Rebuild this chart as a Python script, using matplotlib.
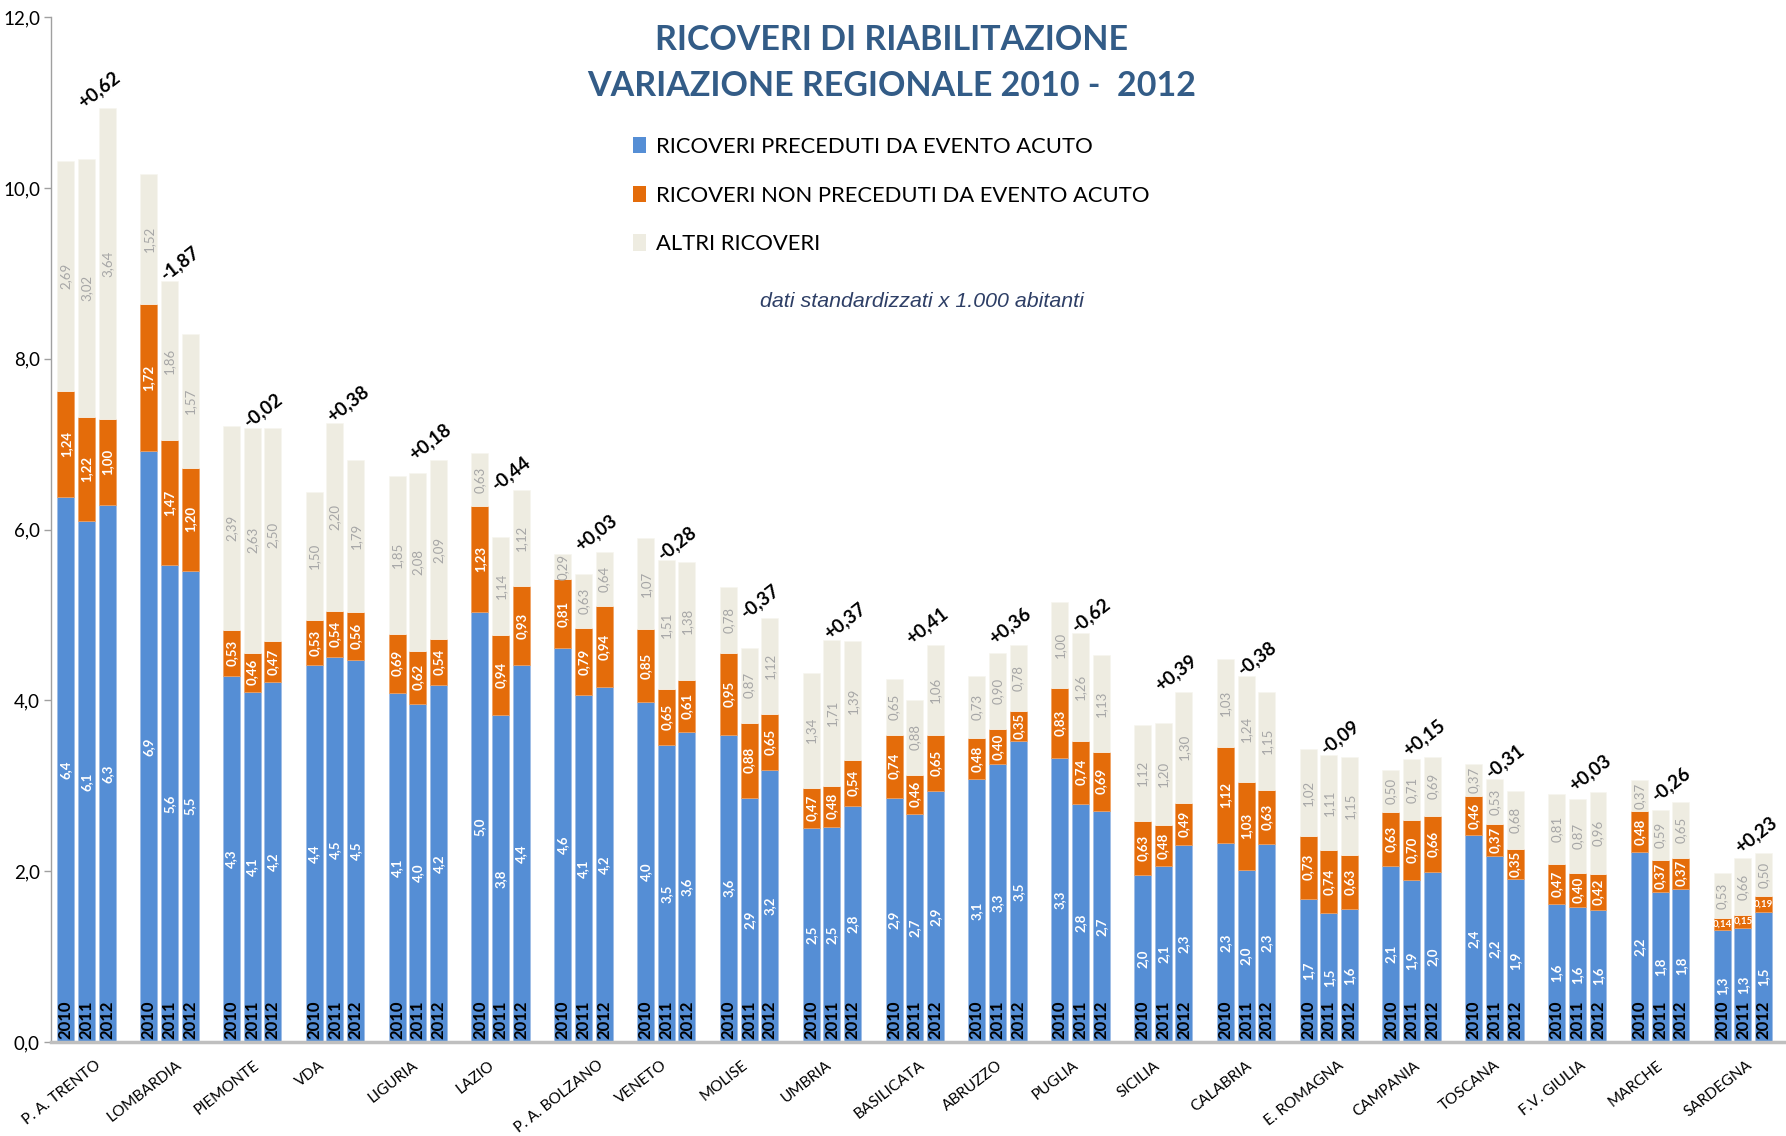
import matplotlib
matplotlib.use("Agg")
import matplotlib.pyplot as plt
from matplotlib.patches import Patch

# ---------------- data ----------------
regions = ["P. A. TRENTO", "LOMBARDIA", "PIEMONTE", "VDA", "LIGURIA", "LAZIO",
           "P. A. BOLZANO", "VENETO", "MOLISE", "UMBRIA", "BASILICATA", "ABRUZZO",
           "PUGLIA", "SICILIA", "CALABRIA", "E. ROMAGNA", "CAMPANIA", "TOSCANA",
           "F.V. GIULIA", "MARCHE", "SARDEGNA"]
years = ["2010", "2011", "2012"]

acute_2010 = [6.38, 6.92, 4.29, 4.41, 4.09, 5.04, 4.61, 3.98, 3.60, 2.51, 2.86,
              3.08, 3.32, 1.96, 2.33, 1.68, 2.06, 2.42, 1.62, 2.22, 1.31]
acute_2011 = [6.10, 5.58, 4.10, 4.51, 3.96, 3.83, 4.06, 3.48, 2.86, 2.52, 2.67,
              3.26, 2.79, 2.06, 2.02, 1.51, 1.90, 2.18, 1.58, 1.76, 1.34]
acute_2012 = [6.29, 5.52, 4.22, 4.47, 4.18, 4.41, 4.16, 3.63, 3.19, 2.76, 2.94,
              3.52, 2.71, 2.31, 2.32, 1.56, 1.99, 1.91, 1.55, 1.79, 1.52]

nonacute_2010 = [1.24, 1.72, 0.53, 0.53, 0.69, 1.23, 0.81, 0.85, 0.95, 0.47, 0.74,
                 0.48, 0.83, 0.63, 1.12, 0.73, 0.63, 0.46, 0.47, 0.48, 0.14]
nonacute_2011 = [1.22, 1.47, 0.46, 0.54, 0.62, 0.94, 0.79, 0.65, 0.88, 0.48, 0.46,
                 0.40, 0.74, 0.48, 1.03, 0.74, 0.70, 0.37, 0.40, 0.37, 0.15]
nonacute_2012 = [1.00, 1.20, 0.47, 0.56, 0.54, 0.93, 0.94, 0.61, 0.65, 0.54, 0.65,
                 0.35, 0.69, 0.49, 0.63, 0.63, 0.66, 0.35, 0.42, 0.37, 0.19]

other_2010 = [2.69, 1.52, 2.39, 1.50, 1.85, 0.63, 0.29, 1.07, 0.78, 1.34, 0.65,
              0.73, 1.00, 1.12, 1.03, 1.02, 0.50, 0.37, 0.81, 0.37, 0.53]
other_2011 = [3.02, 1.86, 2.63, 2.20, 2.08, 1.14, 0.63, 1.51, 0.87, 1.71, 0.88,
              0.90, 1.26, 1.20, 1.24, 1.11, 0.71, 0.53, 0.87, 0.59, 0.66]
other_2012 = [3.64, 1.57, 2.50, 1.79, 2.09, 1.12, 0.64, 1.38, 1.12, 1.39, 1.06,
              0.78, 1.13, 1.30, 1.15, 1.15, 0.69, 0.68, 0.96, 0.65, 0.50]

variation = [0.62, -1.87, -0.02, 0.38, 0.18, -0.44, 0.03, -0.28, -0.37, 0.37, 0.41,
             0.36, -0.62, 0.39, -0.38, -0.09, 0.15, -0.31, 0.03, -0.26, 0.23]

series_labels = ["RICOVERI PRECEDUTI DA EVENTO ACUTO",
                 "RICOVERI NON PRECEDUTI DA EVENTO ACUTO",
                 "ALTRI RICOVERI"]
yticks = [0, 2, 4, 6, 8, 10, 12]

# ---------------- style ----------------
plt.rcParams['font.family'] = ['Lato', 'DejaVu Sans']
C_BLUE = "#558ed5"
C_ORANGE = "#e46c0a"
C_BEIGE = "#eeece1"
C_GREY = "#a6a6a6"
C_TITLE = "#335c87"

acute = [acute_2010, acute_2011, acute_2012]
nonacute = [nonacute_2010, nonacute_2011, nonacute_2012]
other = [other_2010, other_2011, other_2012]

def it(v, dec):
    return f"{v:.{dec}f}".replace(".", ",")

fig = plt.figure(figsize=(17.86, 11.36), dpi=100)
ax = fig.add_axes([0.0286, 0.0827, 0.9714, 0.9023])

n = len(regions)
xs = list(range(n))
offsets = [-0.25, 0.0, 0.25]
bw = 0.205

tops = [[0] * n for _ in range(3)]
for k in range(3):
    xk = [x + offsets[k] for x in xs]
    a = acute[k]
    b = nonacute[k]
    c = other[k]
    ab = [a[i] + b[i] for i in range(n)]
    ax.bar(xk, a, bw, color=C_BLUE, edgecolor="#9dbbe6", linewidth=0.5, zorder=2)
    ax.bar(xk, b, bw, bottom=a, color=C_ORANGE, edgecolor="#f0a060", linewidth=0.5, zorder=2)
    ax.bar(xk, c, bw, bottom=ab, color=C_BEIGE, edgecolor="#f7f6f0", linewidth=0.5, zorder=2)
    for i in range(n):
        tops[k][i] = ab[i] + c[i]
        ax.text(xk[i], 0.03, years[k], rotation=90, ha="center", va="bottom",
                fontsize=12, fontweight="bold", color="black", zorder=3)
        ax.text(xk[i], a[i] / 2, it(a[i], 1), rotation=90, ha="center", va="center",
                fontsize=9.5, fontweight="bold", color="white", zorder=3)
        if b[i] >= 0.25:
            ax.text(xk[i], a[i] + b[i] / 2, it(b[i], 2), rotation=90, ha="center",
                    va="center", fontsize=9.5, fontweight="bold", color="white", zorder=3)
        else:
            ax.text(xk[i], a[i] + b[i] / 2, it(b[i], 2), ha="center", va="center",
                    fontsize=7, fontweight="bold", color="white", zorder=3)
        ax.text(xk[i], ab[i] + c[i] / 2, it(c[i], 2), rotation=90, ha="center",
                va="center", fontsize=9.5, color=C_GREY, zorder=3)

# variation labels (bounding box anchored at its lower-left corner)
for i in range(n):
    ytop = max(tops[1][i], tops[2][i])
    v = variation[i]
    s = ("+" if v > 0 else "-") + it(abs(v), 2)
    ax.text(i - 0.14, ytop - 0.03, s, rotation=38, ha="left", va="bottom",
            fontsize=13.5, fontweight="bold", color="black", zorder=4)

# category labels (rotated box centred left of the group, top aligned)
for i in range(n):
    ax.text(i - 0.30, -0.19, regions[i], rotation=38, ha="center", va="top",
            fontsize=11, color="black", clip_on=False)

ax.set_xlim(-0.428, 20.52)
ax.set_ylim(0, 12)
ax.set_xticks([])
ax.set_yticks(yticks)
ax.set_yticklabels([it(v, 1) for v in yticks], fontsize=13.5)
ax.tick_params(axis="y", length=5, width=1, color="#a0a0a0", pad=3)
for sp in ["top", "right"]:
    ax.spines[sp].set_visible(False)
ax.spines["left"].set_color("#a0a0a0")
ax.spines["left"].set_linewidth(1)
ax.spines["bottom"].set_color("#bfbfbf")
ax.spines["bottom"].set_linewidth(2.5)
ax.spines["bottom"].set_zorder(5)

# titles
fig.text(0.499, 0.965, "RICOVERI DI RIABILITAZIONE", ha="center", va="center",
         fontsize=24.5, fontweight="bold", color=C_TITLE)
fig.text(0.499, 0.924, "VARIAZIONE REGIONALE 2010 -  2012", ha="center", va="center",
         fontsize=24.5, fontweight="bold", color=C_TITLE)

handles = [Patch(facecolor=C_BLUE), Patch(facecolor=C_ORANGE), Patch(facecolor=C_BEIGE)]
fig.legend(handles, series_labels, loc="upper left", bbox_to_anchor=(0.348, 0.889),
           frameon=False, fontsize=15.8, handlelength=0.6, handleheight=0.75,
           handletextpad=0.45, labelspacing=1.3, borderpad=0)

fig.text(0.516, 0.735, "dati standardizzati x 1.000 abitanti", ha="center", va="center",
         fontsize=15.4, fontstyle="italic", color="#2e3f66", family=["Liberation Sans"])

fig.savefig("out.png", dpi=100)
